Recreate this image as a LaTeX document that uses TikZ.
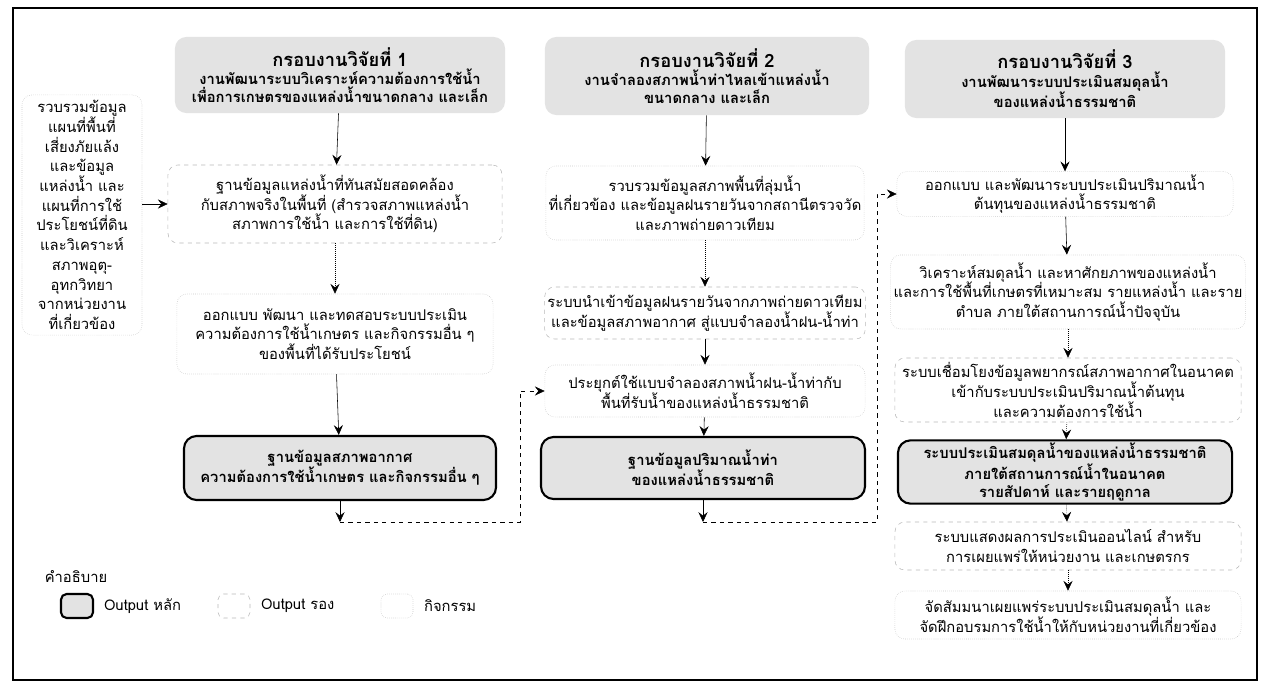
\documentclass[tikz,border=0pt]{standalone}
\usepackage{fontspec}
\setmainfont[Script=Thai]{Loma}
\usetikzlibrary{arrows.meta}

\begin{document}
\begin{tikzpicture}[x = 0.025cm, y = -0.025cm,
	every node/.style = {align = center, inner sep = 2pt, font = \fontsize{10.5}{14}\selectfont},
	head/.style = {fill = gray!22, rounded corners = 8pt, font = \fontsize{10.5}{13}\selectfont\bfseries},
	task/.style = {draw = gray!45, densely dotted, rounded corners = 7pt},
	minor/.style = {draw = gray!55, dashed, rounded corners = 7pt},
	major/.style = {draw = black, fill = gray!22, line width = 1.5pt, rounded corners = 9pt, font = \fontsize{10.5}{14}\selectfont\bfseries},
	link/.style = {thin, -{Stealth[length = 7pt, width = 6.5pt, inset = 2.5pt]}},
	faint/.style = {link, densely dotted}]
	\useasboundingbox (0,0) rectangle (1264,696);
	\draw[line width = 0.8pt] (13,8) rectangle (1257,680);

	\node[task, minimum width = 3cm, minimum height = 6cm] (src) at (82,215) {รวบรวมข้อมูล\\แผนที่พื้นที่\\เสี่ยงภัยแล้ง\\และข้อมูล\\แหล่งน้ำ และ\\แผนที่การใช้\\ประโยชน์ที่ดิน\\และวิเคราะห์\\สภาพอุตุ-\\อุทกวิทยา\\จากหน่วยงาน\\ที่เกี่ยวข้อง};

	\node[head, minimum width = 8.25cm, minimum height = 1.9cm] (hdr1) at (340,75) {{\fontsize{13}{16}\selectfont กรอบงานวิจัยที่ 1}\\งานพัฒนาระบบวิเคราะห์ความต้องการใช้น้ำ\\เพื่อการเกษตรของแหล่งน้ำขนาดกลาง และเล็ก};
	\node[minor, minimum width = 8.35cm, minimum height = 1.95cm] (db1) at (335,204) {ฐานข้อมูลแหล่งน้ำที่ทันสมัยสอดคล้อง\\กับสภาพจริงในพื้นที่ (สำรวจสภาพแหล่งน้ำ\\สภาพการใช้น้ำ และการใช้ที่ดิน)};
	\node[task, minimum width = 7.9cm, minimum height = 2cm] (des1) at (335,334) {ออกแบบ พัฒนา และทดสอบระบบประเมิน\\ความต้องการใช้น้ำเกษตร และกิจกรรมอื่น ๆ\\ของพื้นที่ได้รับประโยชน์};
	\node[major, minimum width = 7.8cm, minimum height = 1.6cm] (out1) at (340,468) {ฐานข้อมูลสภาพอากาศ\\ความต้องการใช้น้ำเกษตร และกิจกรรมอื่น ๆ};
	\coordinate (end1) at (340,522);
	\coordinate (turn1) at (520,522);

	\node[head, minimum width = 8.1cm, minimum height = 1.95cm] (hdr2) at (707,76) {{\fontsize{13}{16}\selectfont กรอบงานวิจัยที่ 2}\\งานจำลองสภาพน้ำท่าไหลเข้าแหล่งน้ำ\\ขนาดกลาง และเล็ก};
	\node[task, minimum width = 7.9cm, minimum height = 1.85cm] (basin) at (705,203) {รวบรวมข้อมูลสภาพพื้นที่ลุ่มน้ำ\\ที่เกี่ยวข้อง และข้อมูลฝนรายวันจากสถานีตรวจวัด\\และภาพถ่ายดาวเทียม};
	\node[minor, minimum width = 8cm, minimum height = 1.3cm] (rain) at (705,313) {ระบบนำเข้าข้อมูลฝนรายวันจากภาพถ่ายดาวเทียม\\และข้อมูลสภาพอากาศ สู่แบบจำลองน้ำฝน-น้ำท่า};
	\node[task, minimum width = 8cm, minimum height = 1.3cm] (model) at (705,391) {ประยุกต์ใช้แบบจำลองสภาพน้ำฝน-น้ำท่ากับ\\พื้นที่รับน้ำของแหล่งน้ำธรรมชาติ};
	\node[major, minimum width = 8.1cm, minimum height = 1.55cm] (out2) at (703,468) {ฐานข้อมูลปริมาณน้ำท่า\\ของแหล่งน้ำธรรมชาติ};
	\coordinate (end2) at (703,522);
	\coordinate (turn2) at (877,522);

	\node[head, minimum width = 8cm, minimum height = 1.95cm] (hdr3) at (1065,79) {{\fontsize{13}{16}\selectfont กรอบงานวิจัยที่ 3}\\งานพัฒนาระบบประเมินสมดุลน้ำ\\ของแหล่งน้ำธรรมชาติ};
	\node[task, minimum width = 8.4cm, minimum height = 1.1cm] (supply) at (1065,194) {ออกแบบ และพัฒนาระบบประเมินปริมาณน้ำ\\ต้นทุนของแหล่งน้ำธรรมชาติ};
	\node[task, minimum width = 8.65cm, minimum height = 1.85cm] (balance) at (1068,292) {วิเคราะห์สมดุลน้ำ และหาศักยภาพของแหล่งน้ำ\\และการใช้พื้นที่เกษตรที่เหมาะสม รายแหล่งน้ำ และราย\\ตำบล ภายใต้สถานการณ์น้ำปัจจุบัน};
	\node[minor, minimum width = 8.65cm, minimum height = 1.6cm] (link3) at (1068,390) {ระบบเชื่อมโยงข้อมูลพยากรณ์สภาพอากาศในอนาคต\\เข้ากับระบบประเมินปริมาณน้ำต้นทุน\\และความต้องการใช้น้ำ};
	\node[major, minimum width = 8.35cm, minimum height = 1.5cm, font = \fontsize{10.5}{12.5}\selectfont\bfseries] (out3) at (1065,472) {ระบบประเมินสมดุลน้ำของแหล่งน้ำธรรมชาติ\\ภายใต้สถานการณ์น้ำในอนาคต\\รายสัปดาห์ และรายฤดูกาล};
	\node[minor, minimum width = 8.65cm, minimum height = 1.2cm] (online) at (1068,546) {ระบบแสดงผลการประเมินออนไลน์ สำหรับ\\การเผยแพร่ให้หน่วยงาน และเกษตรกร};
	\node[task, minimum width = 8.65cm, minimum height = 1.2cm] (train) at (1068,615) {จัดสัมมนาเผยแพร่ระบบประเมินสมดุลน้ำ และ\\จัดฝึกอบรมการใช้น้ำให้กับหน่วยงานที่เกี่ยวข้อง};

	\node (legend) at (76,576) {คำอธิบาย};
	\node[major, minimum width = 0.8cm, minimum height = 0.6cm, rounded corners = 4pt] (keymajor) at (77,606) {};
	\node[anchor = west] at (101,606) {Output หลัก};
	\node[minor, minimum width = 0.8cm, minimum height = 0.6cm, rounded corners = 4pt] (keyminor) at (234,606) {};
	\node[anchor = west] at (258,606) {Output รอง};
	\node[task, minimum width = 0.8cm, minimum height = 0.6cm, rounded corners = 4pt] (keytask) at (397,606) {};
	\node[anchor = west] at (421,606) {กิจกรรม};

	\draw[link] (src.east |- db1.west) -- (db1.west);
	\draw[link] (hdr1) -- (db1);
	\draw[faint] (db1) -- (des1);
	\draw[link] (des1) -- (out1);
	\draw[link] (out1) -- (end1);
	\draw[link, dashed] (end1) -- (turn1) |- (model.west);

	\draw[link] (hdr2) -- (basin);
	\draw[faint] (basin) -- (rain);
	\draw[link] (rain) -- (model);
	\draw[link] (model) -- (out2);
	\draw[link] (out2) -- (end2);
	\draw[link, dashed] (end2) -- (turn2) |- (supply.west);

	\draw[link] (hdr3) -- (supply);
	\draw[link] (supply) -- (balance);
	\draw[faint] (balance) -- (link3);
	\draw[faint] (link3) -- (out3);
	\draw[faint] (out3) -- (online);
	\draw[faint] (online) -- (train);
\end{tikzpicture}
\end{document}
